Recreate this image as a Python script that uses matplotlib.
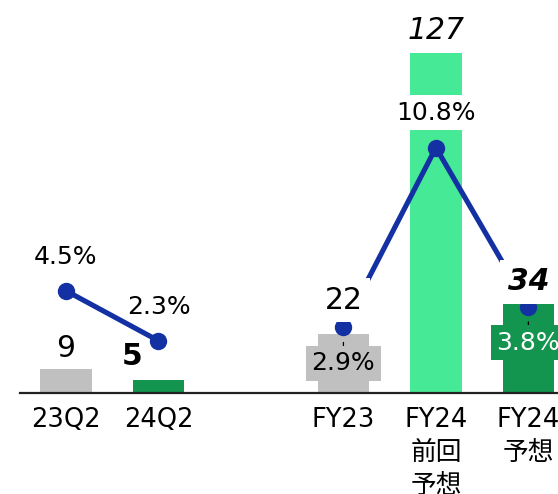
import matplotlib
matplotlib.use('Agg')
import matplotlib.pyplot as plt

plt.rcParams['font.family'] = ['DejaVu Sans', 'Noto Sans CJK JP']

# data
CATS = ['23Q2', '24Q2', 'FY23', 'FY24\n前回\n予想', 'FY24\n予想']
XPOS = [0, 1, 3, 4, 5]
VALUES = [9, 5, 22, 127, 34]
MARGIN_PCT = [4.5, 2.3, 2.9, 10.8, 3.8]
VALUE_TXT = ['9', '5', '22', '127', '34']
PCT_TXT = ['4.5%', '2.3%', '2.9%', '10.8%', '3.8%']

# colours
GRAY, DARK, LIGHT = '#c0c0c0', '#13944f', '#46e996'
BAR_COLORS = [GRAY, DARK, GRAY, LIGHT, DARK]
BLUE = '#1431a3'

fig = plt.figure(figsize=(5.58, 4.94), dpi=100)
ax = fig.add_axes([20 / 558, 101 / 494, 538 / 558, 393 / 494])
ax2 = ax.twinx()

ax.bar(XPOS, VALUES, width=0.56, color=BAR_COLORS, zorder=2)
ax.set_xlim(-0.497, 5.32)
ax.set_ylim(0, 146.8)
ax2.set_ylim(0, 17.3)

for a in (ax, ax2):
    for side in ('top', 'right', 'left'):
        a.spines[side].set_visible(False)
    a.set_yticks([])
ax2.spines['bottom'].set_visible(False)
ax.spines['bottom'].set_color('#222222')
ax.spines['bottom'].set_linewidth(1.6)
ax.set_xticks(XPOS)
ax.set_xticklabels(CATS, fontsize=18.5, linespacing=1.36)
ax.tick_params(axis='x', length=0, pad=10)

# margin line: two separate segments (quarters, full years)
for seg in (slice(0, 2), slice(2, 5)):
    ax2.plot(XPOS[seg], MARGIN_PCT[seg], color=BLUE, lw=3.7,
             marker='o', ms=11.5, zorder=3, solid_capstyle='butt')

# value labels (offset in points above bar top, x offset in points)
val_off = [(0, 15), (-19, 16.5), (0, 0), (0, 16), (0, 14.5)]
val_style = [('normal', 'normal'), ('bold', 'normal'), ('normal', 'normal'),
             ('normal', 'italic'), ('bold', 'italic')]
for i, (x, v) in enumerate(zip(XPOS, VALUES)):
    dx, dy = val_off[i]
    w, st = val_style[i]
    if i == 2:
        # FY23 sits above the margin dot instead of the bar
        ax2.annotate(VALUE_TXT[i], (x, MARGIN_PCT[i]), xytext=(0, 19.5),
                     textcoords='offset points', ha='center', va='center',
                     fontsize=21.5, zorder=5,
                     bbox=dict(boxstyle='square,pad=0.25', fc='white', ec='none'))
        continue
    box = dict(boxstyle='square,pad=0.25', fc='white', ec='none') if i == 4 else None
    ax2.annotate(VALUE_TXT[i], (x, v * 17.3 / 146.8), xytext=(dx, dy),
                 textcoords='offset points', ha='center', va='center',
                 fontsize=21.5, fontweight=w, style=st, zorder=5, bbox=box)

# margin labels
pct_off = [24, 24, -26, 25, -26]
pct_box = [None, None, GRAY, 'white', DARK]
pct_col = ['black', 'black', 'black', 'black', 'white']
for i, (x, p) in enumerate(zip(XPOS, MARGIN_PCT)):
    box = None
    if pct_box[i] is not None:
        box = dict(boxstyle='square,pad=0.22', fc=pct_box[i], ec='none')
    arrow = None
    if pct_off[i] < 0:
        arrow = dict(arrowstyle='-', lw=0.9, color='black',
                     shrinkA=0, shrinkB=11)
    ax2.annotate(PCT_TXT[i], (x, p), xytext=(0, pct_off[i]),
                 textcoords='offset points', ha='center', va='center',
                 fontsize=18, color=pct_col[i], zorder=5, bbox=box,
                 arrowprops=arrow)

fig.savefig('out.png', dpi=100)
